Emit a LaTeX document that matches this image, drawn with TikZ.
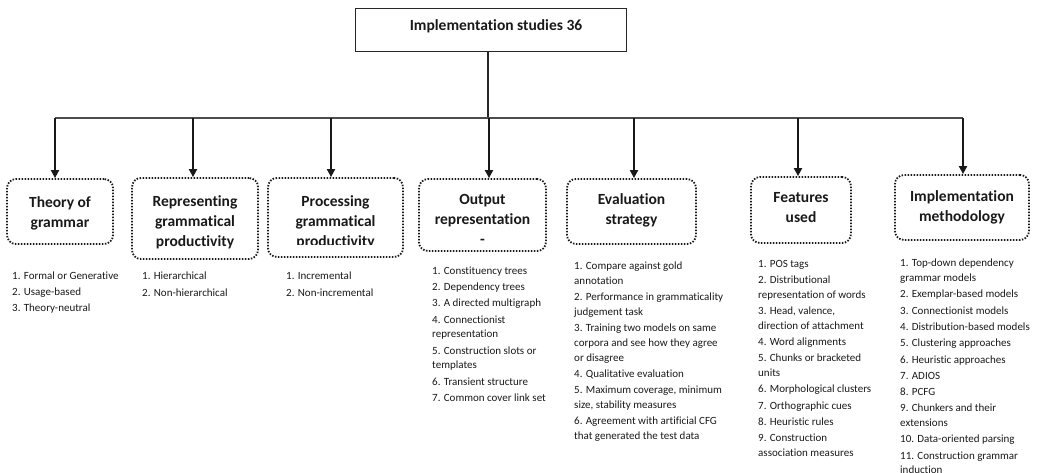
\documentclass[tikz,border=0pt]{standalone}
\usepackage{fontspec}
\setmainfont{Carlito}[Ligatures={NoCommon,NoContextual,NoRequired},RawFeature={-liga;-clig;-calt;-dlig}]
\usetikzlibrary{arrows.meta}
\begin{document}
\begin{tikzpicture}[x=1pt,y=-1pt,
  rootbox/.style={draw=black!85, line width=1pt, minimum width=271pt,
    text height=22pt, text depth=21pt, inner sep=0pt,
    font=\fontsize{15.5}{20}\selectfont\bfseries, text=black!90},
  catbox/.style={draw=black!90, line width=1.8pt, dash pattern=on 1.5pt off 1.5pt,
    rounded corners=9pt, inner sep=0pt},
  cattitle/.style={font=\fontsize{15.5}{20}\selectfont\bfseries, align=center,
    text=black!90, inner sep=0pt},
  itemlist/.style={font=\fontsize{11}{14.7}\selectfont, align=left,
    anchor=north west, inner sep=0pt, text=black!90},
  feed/.style={line width=1.8pt, draw=black!90, -{Triangle[length=8pt,width=8pt]}},
  bus/.style={line width=1.2pt, draw=black!70},
  stem/.style={line width=1.5pt, draw=black!85}
]
\useasboundingbox (0,0) rectangle (1040,472);

% root of the tree
\node[rootbox] (root) at (490.5,29.5) {\hspace*{11pt}Implementation studies 36};

% horizontal distribution line
\coordinate (j)  at (488,118);
\coordinate (b1) at (55,118);
\coordinate (b2) at (193,118);
\coordinate (b3) at (331,118);
\coordinate (b4) at (489,118);
\coordinate (b5) at (634,118);
\coordinate (b6) at (798,118);
\coordinate (b7) at (963,118);

% category frames
\node[catbox, minimum width=106pt, minimum height=65pt] (theory) at (60,211.5) {};
\node[catbox, minimum width=126pt, minimum height=81pt] (repr)   at (195,218.5) {};
\node[catbox, minimum width=135pt, minimum height=79pt] (proc)   at (335.5,217.5) {};
\node[catbox, minimum width=127pt, minimum height=72pt] (outp)   at (482.5,215) {};
\node[catbox, minimum width=129pt, minimum height=65pt] (evalu)  at (631.5,211.5) {};
\node[catbox, minimum width=100pt, minimum height=66pt] (feat)   at (801,210) {};
\node[catbox, minimum width=134pt, minimum height=65pt] (impl)   at (962,207.5) {};

% category titles
\node[cattitle] (theoryT) at (60,213) {Theory of\\grammar};
\node[cattitle] (reprT)   at (195,222) {Representing\\grammatical\\productivity};
\begin{scope}
  \clip (262,185) rectangle (410,244);
  \node[cattitle] (procT) at (335.5,222) {Processing\\grammatical\\productivity};
\end{scope}
\node[cattitle] (outpT)   at (482.5,219) {Output\\representation\\-};
\node[cattitle] (evaluT)  at (631.5,210.5) {Evaluation\\strategy};
\node[cattitle] (featT)   at (801,208) {Features\\used};
\node[cattitle] (implT)   at (962,207.5) {Implementation\\methodology};

% connectors
\draw[stem] (root.south -| j) -- (j);
\draw[bus] (b1) -- (b7);
\draw[feed] (b1) -- (b1 |- theory.north);
\draw[feed] (b2) -- (b2 |- repr.north);
\draw[feed] (b3) -- (b3 |- proc.north);
\draw[feed] (b4) -- (b4 |- outp.north);
\draw[feed] (b5) -- (b5 |- evalu.north);
\draw[feed] (b6) -- (b6 |- feat.north);
\draw[feed] (b7) -- (b7 |- impl.north);

% item lists
\node[itemlist] (theoryL) at (12,271.5) {1. Formal or Generative\\[1.6pt]2. Usage-based\\[1.6pt]3. Theory-neutral};
\node[itemlist] (reprL) at (142,272) {1. Hierarchical\\[1.6pt]2. Non-hierarchical};
\node[itemlist] (procL) at (286,272) {1. Incremental\\[1.6pt]2. Non-incremental};
\node[itemlist] (outpL) at (432,266.5) {1. Constituency trees\\[1.6pt]2. Dependency trees\\[1.6pt]3. A directed multigraph\\[1.6pt]4. Connectionist\\representation\\[1.6pt]5. Construction slots or\\templates\\[1.6pt]6. Transient structure\\[1.6pt]7. Common cover link set};
\node[itemlist] (evaluL) at (574,262) {1. Compare against gold\\annotation\\[1.6pt]2. Performance in grammaticality\\judgement task\\[1.6pt]3. Training two models on same\\corpora and see how they agree\\or disagree\\[1.6pt]4. Qualitative evaluation\\[1.6pt]5. Maximum coverage, minimum\\size, stability measures\\[1.6pt]6. Agreement with artificial CFG\\that generated the test data};
\node[itemlist] (featL) at (758,260) {1. POS tags\\[1.6pt]2. Distributional\\representation of words\\[1.6pt]3. Head, valence,\\direction of attachment\\[1.6pt]4. Word alignments\\[1.6pt]5. Chunks or bracketed\\units\\[1.6pt]6. Morphological clusters\\[1.6pt]7. Orthographic cues\\[1.6pt]8. Heuristic rules\\[1.6pt]9. Construction\\association measures};
\node[itemlist] (implL) at (900,259) {1. Top-down dependency\\grammar models\\[1.6pt]2. Exemplar-based models\\[1.6pt]3. Connectionist models\\[1.6pt]4. Distribution-based models\\[1.6pt]5. Clustering approaches\\[1.6pt]6. Heuristic approaches\\[1.6pt]7. ADIOS\\[1.6pt]8. PCFG\\[1.6pt]9. Chunkers and their\\extensions\\[1.6pt]10. Data-oriented parsing\\[1.6pt]11. Construction grammar\\induction};
\end{tikzpicture}
\end{document}
